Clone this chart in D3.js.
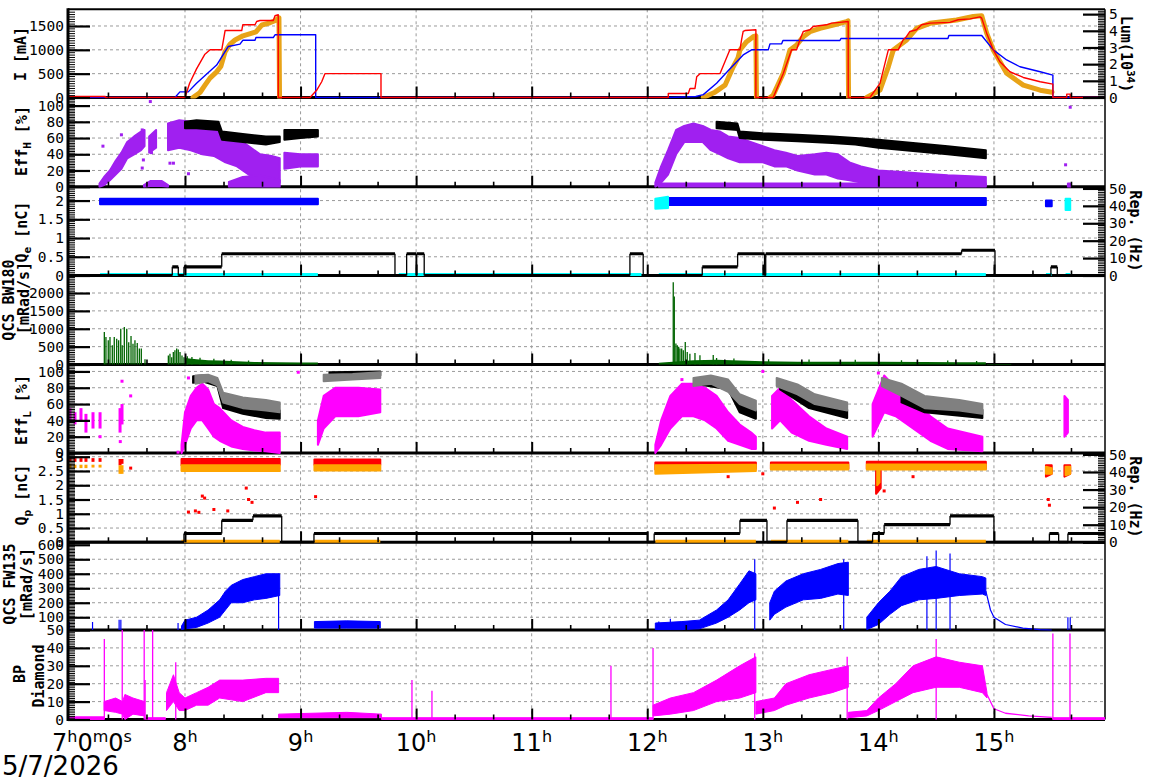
<!DOCTYPE html>
<html><head><meta charset="utf-8">
<script src="https://cdn.jsdelivr.net/npm/d3@7"></script>
<style>body{margin:0;background:#fff;} svg{display:block;}</style>
</head><body><svg id="c" width="1172" height="782"></svg>
<script>
// ---------------- DATA (time in decimal hours) ----------------
const hourTicks = [8, 9, 10, 11, 12, 13, 14, 15];
const dateLabel = "5/7/2026";

// Panel 1: beam currents [h, mA] and luminosity runs [h, 1e34]
const currentRed = [[6.979,20],[7.31,20],[7.31,0],[8.0,0],[8.04,300],[8.1,600],[8.17,900],[8.217,1000],[8.318,1000],[8.347,1405],[8.491,1405],[8.5,1525],[8.606,1525],[8.62,1595],[8.649,1615],[8.764,1615],[8.779,1715],[8.807,1736],[8.807,0],[9.082,0],[9.139,150],[9.183,330],[9.211,500],[9.696,500],[9.696,0],[12.182,0],[12.182,85],[12.355,85],[12.37,190],[12.413,190],[12.428,435],[12.456,500],[12.629,500],[12.672,750],[12.715,1000],[12.802,1000],[12.816,1210],[12.83,1385],[12.845,1405],[12.94,1420],[12.94,0],[13.09,0],[13.177,505],[13.249,1000],[13.292,1000],[13.321,1210],[13.35,1385],[13.407,1420],[13.436,1490],[13.551,1525],[13.595,1560],[13.667,1575],[13.739,1595],[13.739,0],[13.927,0],[14.014,295],[14.086,1000],[14.172,1000],[14.215,1210],[14.244,1280],[14.273,1385],[14.331,1420],[14.374,1525],[14.446,1560],[14.619,1575],[14.691,1630],[14.793,1650],[14.879,1690],[14.894,1665],[14.937,1350],[14.994,1000],[15.052,750],[15.138,540],[15.254,420],[15.40,330],[15.51,280],[15.51,0],[15.63,0],[15.63,70],[15.66,70],[15.66,0],[15.961,0]];
const currentBlue = [[6.979,0],[7.913,0],[7.956,118],[8.028,118],[8.1,300],[8.2,520],[8.274,680],[8.375,1070],[8.476,1120],[8.5,1200],[8.606,1200],[8.614,1257],[8.764,1257],[8.779,1315],[9.131,1315],[9.131,0],[12.183,0],[12.42,20],[12.485,60],[12.6,300],[12.7,560],[12.83,893],[12.903,1000],[13.047,1000],[13.062,1125],[13.163,1125],[13.174,1195],[13.667,1195],[13.676,1237],[14.602,1237],[14.61,1300],[14.894,1300],[14.994,1000],[15.11,787],[15.225,645],[15.40,540],[15.51,470],[15.51,0],[15.961,0]];
const lumRuns = [
 [[8.069,0],[8.13,0.3],[8.173,0.74],[8.216,1.16],[8.274,1.54],[8.311,1.88],[8.346,2.73],[8.39,3.2],[8.433,3.45],[8.502,3.7],[8.614,3.93],[8.666,4.35],[8.735,4.48],[8.778,4.6],[8.813,4.78],[8.818,0]],
 [[12.485,0],[12.586,0.32],[12.673,0.74],[12.744,1.84],[12.785,2.37],[12.802,2.85],[12.86,3.35],[12.917,3.65],[12.94,3.7],[12.945,0]],
 [[13.062,0],[13.09,0.14],[13.177,1.45],[13.235,2.85],[13.293,3.15],[13.35,3.65],[13.408,3.95],[13.495,4.15],[13.61,4.35],[13.725,4.55],[13.737,4.6],[13.742,0]],
 [[13.899,0],[14.014,0.44],[14.086,1.84],[14.129,2.85],[14.245,3.45],[14.331,4.15],[14.446,4.45],[14.677,4.65],[14.821,4.86],[14.894,4.9],[14.937,3.86],[14.994,2.85],[15.11,1.45],[15.254,0.74],[15.40,0.44],[15.503,0.32]]
];

// Panel 2: Eff_H scatter envelopes [h, lo, hi] (%)
const effHPurple = [
 [[7.26,0,4],[7.30,2,12],[7.35,8,20],[7.40,15,32],[7.45,22,42],[7.50,35,55],[7.56,40,62],[7.62,45,68],[7.65,50,70]],
 [[7.69,42,62],[7.75,48,70]],
 [[7.645,0,2],[7.70,1,7],[7.80,1,7],[7.853,0,2]],
 [[7.853,45,78],[7.95,48,82],[8.05,45,80],[8.15,40,78],[8.25,38,72],[8.35,30,65],[8.45,25,60],[8.55,15,50],[8.65,10,40],[8.75,5,38],[8.82,5,35]],
 [[8.38,0,6],[8.5,0,12],[8.65,0,14],[8.82,0,8]],
 [[8.86,22,42],[9.0,25,40],[9.15,25,40]],
 [[12.07,0,5],[12.12,5,25],[12.18,15,45],[12.25,40,70],[12.32,55,75],[12.40,55,78],[12.48,55,75],[12.55,45,70],[12.63,40,68],[12.70,35,62],[12.80,30,60],[12.90,30,55],[13.0,30,50],[13.1,25,45],[13.2,25,42],[13.3,20,38],[13.45,15,40],[13.55,15,42],[13.65,10,40],[13.75,8,30],[13.85,5,25],[14.0,5,20],[14.2,3,18],[14.4,2,16],[14.6,2,14],[14.8,2,13],[14.93,2,12]],
 [[12.1,0,4],[14.93,0,4]],
 [[15.64,0,4],[15.66,0,4]]
];
const effHBlack = [
 [[8.0,72,80],[8.1,72,82],[8.29,70,80],[8.32,58,68],[8.5,55,65],[8.7,52,62],[8.82,55,62]],
 [[8.86,58,70],[9.0,60,70],[9.15,62,70]],
 [[12.6,72,80],[12.78,70,78],[12.8,60,68],[13.0,58,66],[13.3,56,64],[13.6,54,62],[13.8,52,60],[14.0,48,58],[14.3,44,54],[14.6,40,50],[14.93,35,45]]
];
const effHDots = [[7.29,50],[7.45,64],[7.63,70],[7.71,52],[7.71,42],[7.87,29],[7.9,29],[7.70,105],[8.03,16],[7.64,33],[7.63,23],[15.66,98],[15.62,27]];

// Panel 3: Qe [h, lo, hi] nC, base cyan [h, nC], e- repetition rate steps [h, Hz]
const qeBlue = [[[7.265,1.9,2.05],[9.15,1.9,2.05]],[[12.18,1.88,2.07],[14.93,1.88,2.07]],[[15.45,1.85,2.0],[15.5,1.85,2.0]]];
const qeCyan = [[[12.07,1.78,2.05],[12.18,1.8,2.1]],[[15.62,1.75,2.05],[15.66,1.75,2.05]]];
const qeCyanBase = [[[7.265,0.03],[9.15,0.03]],[[9.85,0.03],[11.95,0.03]],[[12.1,0.03],[14.93,0.03]],[[15.45,0.03],[15.5,0.03]],[[15.62,0.03],[15.66,0.03]]];
const repE = [[6.979,0],[7.89,5],[7.942,0],[7.991,5],[8.318,12.5],[9.817,0],[9.918,12.5],[10.0,0],[10.005,12.5],[10.07,0],[11.85,12.5],[11.965,0],[12.476,5],[12.782,12.5],[13.015,0],[13.025,12.5],[14.72,14.5],[15.009,0],[15.493,5],[15.548,0],[15.961,0]];

// Panel 4: QCS BW180 spikes [h, mRad/s] and noise envelope [h, hi]
const bw180Spikes = [[7.302,911],[7.316,772],[7.336,681],[7.351,772],[7.371,540],[7.388,772],[7.409,720],[7.426,680],[7.444,1000],[7.457,540],[7.475,1050],[7.496,1000],[7.513,620],[7.533,800],[7.55,580],[7.567,680],[7.587,600],[7.605,450],[7.622,450],[7.654,150],[7.856,250],[7.87,300],[7.885,200],[7.899,350],[7.913,400],[7.928,450],[7.942,420],[7.957,350],[7.974,250],[7.991,200],[8.02,230],[8.06,210],[8.13,190],[8.25,160],[8.4,130],[8.55,110],[12.225,2300],[12.234,1900],[12.248,590],[12.26,540],[12.272,500],[12.283,450],[12.298,450],[12.312,400],[12.329,630],[12.346,350],[12.369,300],[12.413,320],[12.456,260],[12.571,264],[12.6,180],[12.75,170],[13.05,150],[13.4,140],[13.8,130],[14.2,120],[14.6,110],[14.85,100]];
const bw180Noise = [[[8.0,180],[8.1,150],[8.2,120],[8.3,110],[8.45,90],[8.6,70],[8.8,60],[9.0,55],[9.15,55]],[[12.1,50],[12.4,120],[12.6,130],[12.8,110],[13.0,90],[13.3,80],[13.6,80],[14.0,80],[14.4,70],[14.7,60],[14.93,60]],[[14.94,15],[15.15,15]]];

// Panel 5: Eff_L envelopes [h, lo, hi] (%)
const effLStrips = [[7.005,40,55],[7.048,35,50],[7.1,38,55],[7.143,25,48],[7.204,30,50],[7.265,30,50],[7.438,25,55],[7.455,35,60]];
const effLDots = [[7.455,88],[7.53,70],[7.44,14],[7.265,20],[7.94,1],[8.03,92],[8.98,99],[13.0,100],[12.3,90],[14.0,98]];
const effLMagenta = [
 [[7.97,0,10],[8.0,10,50],[8.05,30,70],[8.1,40,80],[8.15,40,85],[8.2,30,78],[8.25,20,60],[8.3,15,55],[8.4,8,40],[8.5,5,32],[8.6,3,28],[8.7,2,25],[8.82,0,25]],
 [[9.15,10,40],[9.2,30,70],[9.3,45,80],[9.5,45,80],[9.69,50,78]],
 [[12.07,0,10],[12.12,10,40],[12.2,30,70],[12.3,45,85],[12.4,45,85],[12.5,40,80],[12.6,30,70],[12.7,15,50],[12.8,10,35],[12.9,5,25],[12.94,5,20]],
 [[13.08,30,70],[13.15,40,80],[13.25,25,65],[13.4,15,45],[13.55,10,30],[13.73,5,20]],
 [[13.95,20,60],[14.05,50,95],[14.15,45,80],[14.3,30,65],[14.45,15,45],[14.6,5,30],[14.9,2,20]],
 [[15.61,20,70],[15.64,25,65]]
];
const effLGrey = [
 [[8.09,85,95],[8.2,88,96],[8.28,83,92],[8.33,62,74],[8.5,55,68],[8.7,52,65],[8.82,50,62]],
 [[9.2,88,96],[9.45,90,97],[9.69,92,99]],
 [[12.4,82,92],[12.55,85,95],[12.7,75,90],[12.8,60,72],[12.94,52,64]],
 [[13.12,82,92],[13.3,72,84],[13.45,60,72],[13.73,52,62]],
 [[14.03,82,92],[14.2,70,85],[14.4,55,70],[14.7,52,65],[14.9,48,60]]
];
const effLBlack = [
 [[8.07,86,94],[8.15,88,95],[8.28,82,90],[8.33,55,64],[8.5,48,58],[8.7,43,55],[8.82,42,52]],
 [[9.25,94,99],[9.69,95,100]],
 [[12.45,84,92],[12.7,78,88],[12.8,50,60],[12.94,42,52]],
 [[13.15,78,88],[13.4,55,65],[13.73,43,53]],
 [[14.2,62,75],[14.4,50,60],[14.9,43,53]]
];

// Panel 6: Qp envelopes [h, lo, hi] nC, dots, p+ repetition rate steps [h, Hz]
const qpRed = [[[7.97,2.7,2.92],[8.82,2.72,2.92]],[[9.12,2.72,2.9],[9.69,2.72,2.9]],[[12.07,2.55,2.8],[12.94,2.58,2.8]],[[13.07,2.58,2.8],[13.74,2.58,2.8]],[[13.9,2.58,2.82],[14.93,2.58,2.82]],[[15.45,2.3,2.7],[15.5,2.4,2.7]],[[15.61,2.3,2.7],[15.66,2.4,2.7]],[[13.98,1.7,2.6],[14.02,1.9,2.6]]];
const qpOrange = [[[7.97,2.5,2.7],[8.82,2.5,2.7]],[[9.12,2.52,2.7],[9.69,2.52,2.7]],[[12.07,2.4,2.7],[12.94,2.5,2.72]],[[13.07,2.55,2.72],[13.74,2.55,2.72]],[[13.9,2.55,2.73],[14.93,2.55,2.73]],[[15.45,2.4,2.65],[15.5,2.4,2.6]],[[15.62,2.35,2.65],[15.66,2.4,2.65]],[[13.99,2.0,2.55],[14.01,2.1,2.55]]];
const qpStripsRed = [[7.005,2.82,2.95],[7.048,2.82,2.95],[7.1,2.82,2.95],[7.143,2.82,2.95],[7.204,2.82,2.95],[7.265,2.82,2.95],[7.438,2.7,2.92],[7.455,2.75,2.92]];
const qpStripsOrange = [[7.005,2.6,2.75],[7.048,2.6,2.72],[7.1,2.6,2.72],[7.143,2.6,2.72],[7.204,2.62,2.72],[7.265,2.62,2.72],[7.438,2.4,2.7],[7.455,2.4,2.7]];
const qpRedDots = [[7.53,2.6],[8.03,1.06],[8.09,1.1],[8.15,1.62],[8.17,1.55],[8.12,1.05],[8.25,1.15],[8.37,1.1],[8.53,1.9],[8.58,1.4],[8.55,1.5],[9.13,1.6],[12.7,2.3],[13.1,1.2],[13.3,1.4],[13.5,1.5],[14.05,1.8],[14.3,2.3],[15.47,1.5],[15.48,1.3],[13.0,2.4]];
const qpOrangeBase = [[[7.97,0.04],[8.82,0.04]],[[9.12,0.04],[9.69,0.04]],[[12.07,0.04],[12.94,0.04]],[[13.07,0.04],[13.74,0.04]],[[13.9,0.04],[14.93,0.04]]];
const repP = [[6.979,0],[7.991,5],[8.318,12.5],[8.588,15],[8.837,0],[9.116,5],[12.0,0],[12.06,5],[12.802,12.5],[13.036,0],[13.209,12.5],[13.823,0],[13.95,5],[14.05,10],[14.62,15],[15.0,0],[15.48,5],[15.56,0],[15.64,5],[15.961,5]];

// Panel 7: QCS FW135 envelopes [h, lo, hi], spikes [h, v], decay [h, v]
const fwBand = [
 [[7.97,15,40],[8.0,20,80],[8.1,30,100],[8.2,60,150],[8.3,100,220],[8.35,150,280],[8.4,200,320],[8.5,200,360],[8.6,220,380],[8.7,230,400],[8.82,250,400]],
 [[9.12,25,70],[9.4,25,75],[9.69,25,70]],
 [[12.07,15,60],[12.3,15,70],[12.45,20,80],[12.6,60,150],[12.7,100,220],[12.8,150,330],[12.88,200,420],[12.94,220,400]],
 [[13.06,80,200],[13.1,120,280],[13.2,170,350],[13.35,220,400],[13.5,230,430],[13.65,260,470],[13.74,250,480]],
 [[13.9,15,100],[14.0,50,200],[14.1,120,280],[14.2,180,380],[14.35,220,430],[14.5,230,450],[14.7,250,400],[14.9,260,380],[14.93,250,370]]
];
const fwSpikes = [[7.0,68],[7.2,68],[7.43,82],[7.445,82],[7.94,60],[8.81,400],[12.93,500],[13.7,500],[14.42,520],[14.5,560],[14.62,540],[12.1,70],[12.2,90],[15.64,100],[15.66,100]];
const fwDecay = [[14.93,280],[14.97,150],[15.0,100],[15.1,50],[15.25,25],[15.4,15],[15.5,12]];

// Panel 8: BP Diamond envelopes [h, lo, hi], spikes, decay
const bpBand = [
 [[6.979,0,1.5],[7.3,0,1.5]],
 [[7.3,5,10],[7.4,4,12],[7.46,3,10],[7.48,0,14],[7.55,3,12],[7.65,2,10]],
 [[7.66,0,1],[7.83,0,1]],
 [[7.84,5,15],[7.9,10,25],[7.95,5,15],[8.0,5,12],[8.1,8,15],[8.2,8,18],[8.3,12,22],[8.5,10,22],[8.7,15,23],[8.81,15,23]],
 [[8.81,1,3],[9.4,1,4],[9.7,1,3]],
 [[9.7,0,1],[12.05,0,1]],
 [[12.05,2,8],[12.2,3,12],[12.4,5,15],[12.6,10,22],[12.8,12,30],[12.94,15,35]],
 [[12.94,3,10],[13.1,5,12],[13.2,8,20],[13.4,12,25],[13.6,15,28],[13.74,18,30]],
 [[13.74,1,4],[13.9,2,5],[14.0,5,12],[14.15,10,20],[14.3,15,30],[14.5,18,35],[14.7,18,32],[14.9,15,30],[14.94,12,15]],
 [[15.51,0,1],[15.961,0,1]]
];
const bpDecay = [[14.94,14],[15.0,6],[15.1,3.5],[15.3,2],[15.5,1.2]];
const bpSpikes = [[7.302,45],[7.457,50],[7.647,50],[7.72,50],[7.655,22],[7.92,32],[9.964,22],[10.137,16],[11.686,30],[12.05,40],[12.93,37],[13.73,35],[14.5,45],[15.51,48],[15.658,48]];

// Axis tick values
const ticksI = [0,500,1000,1500], ticksLum = [0,1,2,3,4,5];
const ticksEff = [0,20,40,60,80,100];
const ticksQe = [0,0.5,1,1.5,2], ticksRep = [0,10,20,30,40,50];
const ticksBW = [0,500,1000,1500,2000];
const ticksQp = [0,0.5,1,1.5,2,2.5,3];
const ticksFW = [100,200,300,400,500,600];
const ticksBP = [0,10,20,30,40,50];

// ---------------- DRAWING ----------------
const svg = d3.select('#c');
const X0 = 68, X1 = 1105;
const x = d3.scaleLinear().domain([6.979, 15.961]).range([67, 1105]);
const T = [9.3, 97.5, 186.7, 275.5, 364.5, 453, 542.3, 630, 719.5];
const yI = d3.scaleLinear().domain([0,1850]).range([T[1],T[0]]);
const yLum = d3.scaleLinear().domain([0,5.29]).range([T[1],T[0]]);
const yEffH = d3.scaleLinear().domain([0,110]).range([T[2],T[1]]);
const yQe = d3.scaleLinear().domain([0,2.37]).range([T[3],T[2]]);
const yRepE = d3.scaleLinear().domain([0,51]).range([T[3],T[2]]);
const yBW = d3.scaleLinear().domain([0,2490]).range([T[4],T[3]]);
const yEffL = d3.scaleLinear().domain([0,108.5]).range([T[5],T[4]]);
const yQp = d3.scaleLinear().domain([0,3.13]).range([T[6],T[5]]);
const yRepP = d3.scaleLinear().domain([0,50.8]).range([T[6],T[5]]);
const yFW = d3.scaleLinear().domain([12,617]).range([T[7],T[6]]);
const yBP = d3.scaleLinear().domain([0,50]).range([T[8],T[7]]);

const defs = svg.append('defs');
for (let i = 0; i < 8; i++) {
  defs.append('clipPath').attr('id','cp'+i).append('rect')
    .attr('x', X0).attr('y', T[i]-1).attr('width', X1-X0).attr('height', T[i+1]-T[i]+2);
}

// grids
const gridG = svg.append('g');
function hgrid(ys, majors) {
  const [r0, r1] = ys.range();
  majors.forEach(v => {
    const yy = ys(v);
    if (yy < r0 - 3 && yy > r1 + 3) gridG.append('line').attr('x1',X0).attr('x2',X1).attr('y1',yy).attr('y2',yy)
      .attr('stroke','#9a9a9a').attr('stroke-width',1).attr('stroke-dasharray','3,3');
  });
}
hgrid(yI, ticksI); hgrid(yEffH, ticksEff); hgrid(yQe, ticksQe); hgrid(yBW, ticksBW);
hgrid(yEffL, ticksEff); hgrid(yQp, ticksQp); hgrid(yFW, ticksFW); hgrid(yBP, ticksBP);
hourTicks.forEach(h => gridG.append('line').attr('x1',x(h)).attr('x2',x(h)).attr('y1',T[0]).attr('y2',T[8])
  .attr('stroke','#9a9a9a').attr('stroke-width',1).attr('stroke-dasharray','3,3'));

function panelG(i) { return svg.append('g').attr('clip-path', `url(#cp${i})`); }
function bands(g, runs, ys, color, sw=2) {
  const area = d3.area().x(d=>x(d[0])).y0(d=>ys(d[1])).y1(d=>ys(d[2]));
  runs.forEach(r => g.append('path').attr('d', area(r)).attr('fill', color).attr('stroke', color)
    .attr('stroke-width', sw).attr('stroke-linejoin','round'));
}
function line(g, data, ys, color, w, cap='butt') {
  g.append('path').attr('d', d3.line().x(d=>x(d[0])).y(d=>ys(d[1]))(data)).attr('fill','none')
    .attr('stroke', color).attr('stroke-width', w).attr('stroke-linecap', cap).attr('stroke-linejoin','round');
}
function spikes(g, data, ys, color, w) {
  const b = ys.range()[0];
  data.forEach(d => g.append('line').attr('x1',x(d[0])).attr('x2',x(d[0])).attr('y1',b).attr('y2',ys(d[1]))
    .attr('stroke',color).attr('stroke-width',w));
}
function strips(g, data, ys, color, w) {
  data.forEach(d => g.append('rect').attr('x', x(d[0])-w/2).attr('width', w)
    .attr('y', ys(d[2])).attr('height', ys(d[1])-ys(d[2])).attr('fill', color));
}
function dots(g, data, ys, color, s) {
  data.forEach(d => g.append('rect').attr('x', x(d[0])-s/2).attr('y', ys(d[1])-s/2).attr('width', s).attr('height', s).attr('fill', color));
}
function steps(g, data, ys) {
  for (let i = 0; i < data.length-1; i++) {
    const a = data[i], b = data[i+1];
    g.append('line').attr('x1',x(a[0])).attr('x2',x(b[0])).attr('y1',ys(a[1])).attr('y2',ys(a[1]))
      .attr('stroke','#000').attr('stroke-width',3.2);
    g.append('line').attr('x1',x(b[0])).attr('x2',x(b[0])).attr('y1',ys(a[1])).attr('y2',ys(b[1]))
      .attr('stroke','#000').attr('stroke-width',1.3);
  }
}

// frame (drawn under data so baseline lines show on top)
const fr = svg.append('g');
fr.append('line').attr('x1',X0).attr('x2',X1).attr('y1',T[0]).attr('y2',T[0]).attr('stroke','#000').attr('stroke-width',2);
for (let i = 1; i <= 8; i++) fr.append('line').attr('x1',X0).attr('x2',X1).attr('y1',T[i]).attr('y2',T[i]).attr('stroke','#000').attr('stroke-width',3);
fr.append('line').attr('x1',X1).attr('x2',X1).attr('y1',T[0]).attr('y2',T[8]).attr('stroke','#000').attr('stroke-width',1.5);

// Panel 1
let g = panelG(0);
lumRuns.forEach(r => line(g, r, yLum, '#e8a317', 5, 'round'));
line(g, currentBlue, yI, '#0000ff', 1.4);
line(g, currentRed, yI, '#ff0000', 1.4);

// Panel 2
g = panelG(1);
bands(g, effHPurple, yEffH, '#a020f0');
bands(g, effHBlack, yEffH, '#000000');
dots(g, effHDots, yEffH, '#a020f0', 3);

// Panel 3
g = panelG(2);
bands(g, qeBlue, yQe, '#0000ff');
bands(g, qeCyan, yQe, '#00ffff');
qeCyanBase.forEach(r => line(g, r, yQe, '#00ffff', 3));
steps(g, repE, yRepE);

// Panel 4
g = panelG(3);
bw180Noise.forEach(r => g.append('path').attr('d', d3.area().x(d=>x(d[0])).y0(yBW(0)).y1(d=>yBW(d[1]))(r)).attr('fill','#006400'));
spikes(g, bw180Spikes, yBW, '#006400', 1.3);

// Panel 5
g = panelG(4);
strips(g, effLStrips, yEffL, '#ff00ff', 3);
bands(g, effLMagenta, yEffL, '#ff00ff');
bands(g, effLBlack, yEffL, '#000000');
bands(g, effLGrey, yEffL, '#808080');
dots(g, effLDots, yEffL, '#ff00ff', 3);

// Panel 6
g = panelG(5);
strips(g, qpStripsRed, yQp, '#ff0000', 3);
strips(g, qpStripsOrange, yQp, '#ffa500', 3);
bands(g, qpRed, yQp, '#ff0000');
bands(g, qpOrange, yQp, '#ffa500');
dots(g, qpRedDots, yQp, '#ff0000', 3);
qpOrangeBase.forEach(r => line(g, r, yQp, '#ffa500', 3));
steps(g, repP, yRepP);

// Panel 7
g = panelG(6);
bands(g, fwBand, yFW, '#0000ff', 1);
spikes(g, fwSpikes, yFW, '#0000ff', 1.2);
line(g, fwDecay, yFW, '#0000ff', 1.2);

// Panel 8
g = panelG(7);
bands(g, bpBand, yBP, '#ff00ff', 1);
spikes(g, bpSpikes, yBP, '#ff00ff', 1.3);
line(g, bpDecay, yBP, '#ff00ff', 1.3);

// left spine
svg.append('line').attr('x1',X0).attr('x2',X0).attr('y1',T[0]-1).attr('y2',T[8]+1.5).attr('stroke','#000').attr('stroke-width',3);

// axes
const mono = 'DejaVu Sans Mono';
function yAxis(ys, majors, minorStep, side) {
  const [d0, d1] = ys.domain();
  const minors = d3.range(Math.ceil(d0/minorStep-1e-9)*minorStep, d1, minorStep);
  const xpos = side === 'left' ? X0 : X1;
  const mk = side === 'left' ? d3.axisLeft : d3.axisRight;
  const gm = svg.append('g').attr('transform', `translate(${xpos},0)`).call(mk(ys).tickValues(minors).tickSize(-7).tickFormat(''));
  gm.select('.domain').remove();
  gm.selectAll('line').attr('stroke','#000').attr('stroke-width',1);
  const ga = svg.append('g').attr('transform', `translate(${xpos},0)`)
    .call(mk(ys).tickValues(majors).tickSize(-22).tickPadding(4).tickFormat(d3.format('~g')));
  ga.select('.domain').remove();
  ga.selectAll('line').attr('stroke','#000').attr('stroke-width',2.2);
  ga.selectAll('text').attr('font-family', mono).attr('font-size', 14.5).attr('fill','#000');
}
yAxis(yI, ticksI, 50, 'left'); yAxis(yLum, ticksLum, 0.1, 'right');
yAxis(yEffH, ticksEff, 2, 'left');
yAxis(yQe, ticksQe, 0.05, 'left'); yAxis(yRepE, ticksRep, 1, 'right');
yAxis(yBW, ticksBW, 50, 'left');
yAxis(yEffL, ticksEff, 2, 'left');
yAxis(yQp, ticksQp, 0.05, 'left'); yAxis(yRepP, ticksRep, 1, 'right');
yAxis(yFW, ticksFW, 10, 'left');
yAxis(yBP, ticksBP, 1, 'left');

// time ticks on every panel bottom
const minorHours = d3.range(7, 16, 1/3).filter(h => Math.abs(h - Math.round(h)) > 0.01 && h < 15.96);
for (let i = 1; i <= 8; i++) {
  const a = svg.append('g').attr('transform', `translate(0,${T[i]})`).call(d3.axisBottom(x).tickValues(hourTicks).tickSize(-11).tickFormat(''));
  a.select('.domain').remove(); a.selectAll('line').attr('stroke','#000').attr('stroke-width',2);
  const b = svg.append('g').attr('transform', `translate(0,${T[i]})`).call(d3.axisBottom(x).tickValues(minorHours).tickSize(-5).tickFormat(''));
  b.select('.domain').remove(); b.selectAll('line').attr('stroke','#000').attr('stroke-width',1.6);
}

// hour labels
const sans = 'DejaVu Sans';
hourTicks.forEach(h => {
  const t = svg.append('text').attr('x', x(h)).attr('y', 751).attr('text-anchor','middle')
    .attr('font-family', sans).attr('font-size', 24).attr('fill','#000');
  t.append('tspan').text(String(h));
  t.append('tspan').attr('dy',-9).attr('font-size',16).text('h');
});
{
  const t = svg.append('text').attr('x', 52).attr('y', 751).attr('font-family', sans).attr('font-size', 24).attr('fill','#000');
  [['7',0],['h',1],['0',0],['m',1],['0',0],['s',1]].forEach(([s,k],i) => {
    const tt = t.append('tspan').text(s);
    if (k) tt.attr('dy',-9).attr('font-size',16); else if (i>0) tt.attr('dy',9);
  });
  svg.append('text').attr('x', 2).attr('y', 775).attr('font-family', sans).attr('font-size', 26).attr('fill','#000').text(dateLabel);
}

// axis titles
function title(xb, cy, parts, rot) {
  const t = svg.append('text').attr('transform', `translate(${xb},${cy}) rotate(${rot})`).attr('text-anchor','middle')
    .attr('font-family', mono).attr('font-weight','bold').attr('font-size',15).attr('fill','#000');
  let shift = 0;
  parts.forEach(([s,k]) => {
    const target = k==='sub' ? 4 : k==='sup' ? -6 : 0;
    t.append('tspan').attr('dy', target-shift).attr('font-size', k ? 11 : 15).text(s);
    shift = target;
  });
}
title(26, 54, [['I [mA]','']], -90);
title(27, 141, [['Eff',''],['H','sub'],[' [%]','']], -90);
title(27, 232, [['Q',''],['e','sub'],[' [nC]','']], -90);
title(14, 300, [['QCS BW180','']], -90);
title(29, 298, [['[mRad/s]','']], -90);
title(27, 410, [['Eff',''],['L','sub'],[' [%]','']], -90);
title(27, 495, [['Q',''],['p','sub'],[' [nC]','']], -90);
title(15, 584, [['QCS FW135','']], -90);
title(32, 584, [['[mRad/s]','']], -90);
title(25, 674, [['BP','']], -90);
title(44, 676, [['Diamond','']], -90);
title(1121, 54, [['Lum(10',''],['34','sup'],[')','']], 90);
title(1130, 231, [['Rep. (Hz)','']], 90);
title(1130, 497, [['Rep. (Hz)','']], 90);
</script></body></html>
